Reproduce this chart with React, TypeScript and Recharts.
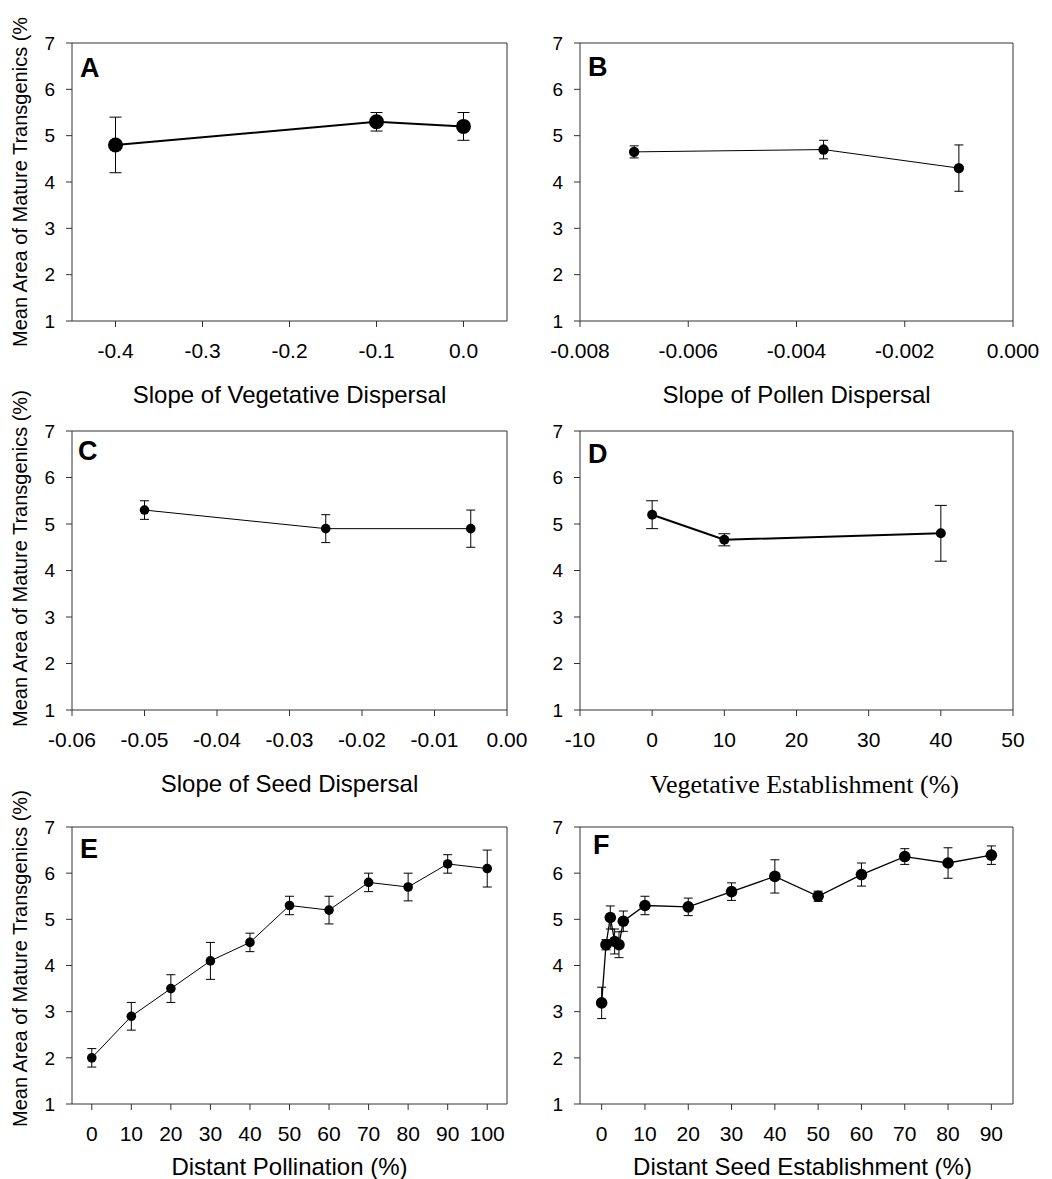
import React from 'react';
import { LineChart, Line, XAxis, YAxis, ErrorBar, Label, CartesianGrid } from 'recharts';

const SANS = '"Liberation Sans", Arial, Helvetica, sans-serif';
const SERIF = '"Liberation Serif", "Times New Roman", serif';
const AXIS = '#333';

const yTicks = [1, 2, 3, 4, 5, 6, 7];

// A - slope of vegetative dispersal
const vegSlope = [-0.4, -0.1, 0.0];
const vegSlopeMean = [4.8, 5.3, 5.2];
const vegSlopeSe = [0.6, 0.2, 0.3];
const vegSlopeTicks = [-0.4, -0.3, -0.2, -0.1, 0.0];

// B - slope of pollen dispersal
const pollenSlope = [-0.007, -0.0035, -0.001];
const pollenSlopeMean = [4.65, 4.7, 4.3];
const pollenSlopeSe = [0.13, 0.2, 0.5];
const pollenSlopeTicks = [-0.008, -0.006, -0.004, -0.002, 0];

// C - slope of seed dispersal
const seedSlope = [-0.05, -0.025, -0.005];
const seedSlopeMean = [5.3, 4.9, 4.9];
const seedSlopeSe = [0.2, 0.3, 0.4];
const seedSlopeTicks = [-0.06, -0.05, -0.04, -0.03, -0.02, -0.01, 0];

// D - vegetative establishment
const vegEst = [0, 10, 40];
const vegEstMean = [5.2, 4.66, 4.8];
const vegEstSe = [0.3, 0.13, 0.6];
const vegEstTicks = [-10, 0, 10, 20, 30, 40, 50];

// E - distant pollination
const pollination = [0, 10, 20, 30, 40, 50, 60, 70, 80, 90, 100];
const pollinationMean = [2.0, 2.9, 3.5, 4.1, 4.5, 5.3, 5.2, 5.8, 5.7, 6.2, 6.1];
const pollinationSe = [0.2, 0.3, 0.3, 0.4, 0.2, 0.2, 0.3, 0.2, 0.3, 0.2, 0.4];
const pollinationTicks = [0, 10, 20, 30, 40, 50, 60, 70, 80, 90, 100];

// F - distant seed establishment
const seedEst = [0, 1, 2, 3, 4, 5, 10, 20, 30, 40, 50, 60, 70, 80, 90];
const seedEstMean = [3.19, 4.45, 5.04, 4.52, 4.45, 4.96, 5.3, 5.27, 5.6, 5.93, 5.5, 5.97, 6.36, 6.22, 6.39];
const seedEstSe = [0.34, 0.11, 0.25, 0.27, 0.28, 0.22, 0.2, 0.19, 0.19, 0.36, 0.11, 0.25, 0.17, 0.33, 0.2];
const seedEstTicks = [0, 10, 20, 30, 40, 50, 60, 70, 80, 90];

const MT = 43; // space above each plot box

type PanelProps = {
  letter: string;
  letterDx: number;
  letterDy: number;
  xs: number[];
  means: number[];
  errs: number[];
  xDomain: [number, number];
  xTicks: number[];
  digits: number;
  xLabel: string;
  xLabelSerif?: boolean;
  xLabelSize: number;
  xLabelDrop: number;
  xLabelDx: number;
  yLabel?: string;
  yLabelDrop?: number;
  left: number;
  top: number;
  width: number;
  height: number;
  yAxisWidth: number;
  marginRight: number;
  xAxisHeight: number;
  dotR: number;
  lineW: number;
  capW: number;
};

function Panel(p: PanelProps) {
  const data = p.xs.map((x, i) => ({ x, y: p.means[i], err: p.errs[i] }));
  const plotH = p.height - MT - p.xAxisHeight;
  const plotW = p.width - p.yAxisWidth - p.marginRight;
  const plotLeft = p.yAxisWidth;
  const plotBottom = MT + plotH;

  // y label and panel letter
  const yLabel = () => {
    const ly = plotBottom + (p.yLabelDrop || 0);
    return (
      <g>
        {p.yLabel && (
          <text
            x={20}
            y={ly}
            transform={`rotate(-90 20 ${ly})`}
            textAnchor="start"
            dominantBaseline="central"
            fontSize={20}
            fontFamily={SANS}
            fill="#000"
          >
            {p.yLabel}
          </text>
        )}
        <text
          x={plotLeft + p.letterDx}
          y={MT + p.letterDy}
          fontSize={27}
          fontWeight="bold"
          fontFamily={SANS}
          fill="#000"
        >
          {p.letter}
        </text>
      </g>
    );
  };

  const xLabel = () => (
    <text
      x={plotLeft + plotW / 2 + p.xLabelDx}
      y={plotBottom + p.xLabelDrop}
      textAnchor="middle"
      fontSize={p.xLabelSize}
      fontFamily={p.xLabelSerif ? SERIF : SANS}
      fill="#000"
    >
      {p.xLabel}
    </text>
  );

  return (
    <div style={{ position: 'absolute', left: p.left, top: p.top, width: p.width, height: p.height }}>
      <LineChart
        width={p.width}
        height={p.height}
        data={data}
        margin={{ top: MT, right: p.marginRight, left: 0, bottom: 0 }}
        style={{ fontFamily: SANS }}
      >
        {/* top and right edges of the plot box */}
        <CartesianGrid
          stroke={AXIS}
          strokeWidth={1}
          strokeDasharray="0"
          horizontalCoordinatesGenerator={(props: any) => [props.offset.top]}
          verticalCoordinatesGenerator={(props: any) => [props.offset.left + props.offset.width]}
        />
        <XAxis
          type="number"
          dataKey="x"
          domain={p.xDomain}
          allowDataOverflow
          ticks={p.xTicks}
          interval={0}
          tickFormatter={(v: number) => v.toFixed(p.digits)}
          height={p.xAxisHeight}
          tickSize={6}
          tickMargin={16}
          tick={{ fontSize: 21, fill: '#000', fontFamily: SANS }}
          axisLine={{ stroke: AXIS }}
          tickLine={{ stroke: AXIS }}
          label={<Label content={xLabel} />}
        />
        <YAxis
          type="number"
          domain={[1, 7]}
          allowDataOverflow
          ticks={yTicks}
          interval={0}
          width={p.yAxisWidth}
          tickSize={6}
          tickMargin={11}
          tick={{ fontSize: 19, fill: '#000', fontFamily: SANS }}
          axisLine={{ stroke: AXIS }}
          tickLine={{ stroke: AXIS }}
          label={<Label content={yLabel} />}
        />
        <Line
          type="linear"
          dataKey="y"
          stroke="#000"
          strokeWidth={p.lineW}
          dot={{ r: p.dotR, fill: '#000', stroke: '#000', strokeWidth: 0 }}
          activeDot={false}
          isAnimationActive={false}
        >
          <ErrorBar dataKey="err" direction="y" width={p.capW} stroke="#000" strokeWidth={1} isAnimationActive={false} />
        </Line>
      </LineChart>
    </div>
  );
}

const leftCol = { left: 0, width: 545, yAxisWidth: 72, marginRight: 38 };
const rightCol = { left: 520, width: 532, yAxisWidth: 60, marginRight: 39 };
const row1 = { top: 0, height: MT + 278 + 92, xAxisHeight: 92 };
const row2 = { top: 388, height: MT + 279 + 92, xAxisHeight: 92 };
const row3 = { top: 784, height: MT + 277 + 75, xAxisHeight: 75 };

export default function App() {
  return (
    <div
      style={{
        position: 'absolute',
        left: 0,
        top: 0,
        width: 1052,
        height: 1179,
        background: '#fff',
        overflow: 'hidden',
      }}
    >
      <Panel
        {...leftCol}
        {...row1}
        letter="A"
        letterDx={8}
        letterDy={34}
        xs={vegSlope}
        means={vegSlopeMean}
        errs={vegSlopeSe}
        xDomain={[-0.45, 0.05]}
        xTicks={vegSlopeTicks}
        digits={1}
        xLabel="Slope of Vegetative Dispersal"
        xLabelSize={24}
        xLabelDrop={82}
        xLabelDx={0}
        yLabel="Mean Area of Mature Transgenics (%"
        yLabelDrop={26}
        dotR={7.5}
        lineW={2}
        capW={6}
      />
      <Panel
        {...rightCol}
        {...row1}
        letter="B"
        letterDx={8}
        letterDy={33}
        xs={pollenSlope}
        means={pollenSlopeMean}
        errs={pollenSlopeSe}
        xDomain={[-0.008, 0]}
        xTicks={pollenSlopeTicks}
        digits={3}
        xLabel="Slope of Pollen Dispersal"
        xLabelSize={24}
        xLabelDrop={82}
        xLabelDx={0}
        dotR={5.2}
        lineW={1}
        capW={4.5}
      />
      <Panel
        {...leftCol}
        {...row2}
        letter="C"
        letterDx={6}
        letterDy={29}
        xs={seedSlope}
        means={seedSlopeMean}
        errs={seedSlopeSe}
        xDomain={[-0.06, 0]}
        xTicks={seedSlopeTicks}
        digits={2}
        xLabel="Slope of Seed Dispersal"
        xLabelSize={24}
        xLabelDrop={82}
        xLabelDx={0}
        yLabel="Mean Area of Mature Transgenics (%)"
        yLabelDrop={17}
        dotR={4.8}
        lineW={1}
        capW={4.5}
      />
      <Panel
        {...rightCol}
        {...row2}
        letter="D"
        letterDx={8}
        letterDy={32}
        xs={vegEst}
        means={vegEstMean}
        errs={vegEstSe}
        xDomain={[-10, 50]}
        xTicks={vegEstTicks}
        digits={0}
        xLabel="Vegetative Establishment (%)"
        xLabelSerif
        xLabelSize={26}
        xLabelDrop={83}
        xLabelDx={8}
        dotR={5}
        lineW={2}
        capW={6}
      />
      <Panel
        {...leftCol}
        {...row3}
        letter="E"
        letterDx={8}
        letterDy={31}
        xs={pollination}
        means={pollinationMean}
        errs={pollinationSe}
        xDomain={[-5, 105]}
        xTicks={pollinationTicks}
        digits={0}
        xLabel="Distant Pollination (%)"
        xLabelSize={24}
        xLabelDrop={71}
        xLabelDx={0}
        yLabel="Mean Area of Mature Transgenics (%)"
        yLabelDrop={23}
        dotR={4.8}
        lineW={1}
        capW={4.5}
      />
      <Panel
        {...rightCol}
        {...row3}
        letter="F"
        letterDx={13}
        letterDy={27}
        xs={seedEst}
        means={seedEstMean}
        errs={seedEstSe}
        xDomain={[-5, 95]}
        xTicks={seedEstTicks}
        digits={0}
        xLabel="Distant Seed Establishment (%)"
        xLabelSize={24}
        xLabelDrop={71}
        xLabelDx={6}
        dotR={5.8}
        lineW={1.3}
        capW={4.5}
      />
    </div>
  );
}
